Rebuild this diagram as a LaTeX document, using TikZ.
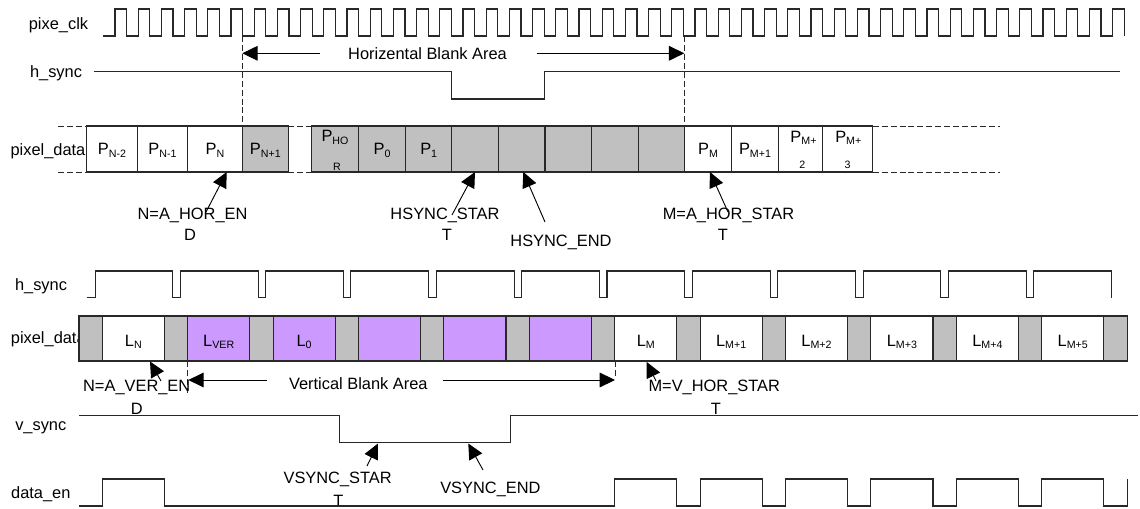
\documentclass[tikz,border=0pt]{standalone}
\usepackage{fontspec}
\setmainfont{Liberation Sans}
\usetikzlibrary{arrows.meta}
\definecolor{gbox}{RGB}{192,192,192}
\definecolor{pbox}{RGB}{204,153,255}
\definecolor{ink}{RGB}{40,40,40}
\newcommand{\smt}{\fontsize{8}{9}\selectfont}
\newcommand{\sbx}[1]{\raisebox{-1.6pt}{\smt #1}}
\tikzset{
  sig/.style={line width=0.8pt, draw=ink, line join=miter},
  cell/.style={line width=0.8pt, draw=ink},
  dsh/.style={line width=0.7pt, draw=ink, dash pattern=on 4.5pt off 2.2pt},
  lbl/.style={font=\fontsize{12.3}{16}\selectfont, inner sep=0pt, text=black},
  ann/.style={line width=0.7pt, draw=black, -{Triangle[length=11.5pt,width=11pt]}},
}
\begin{document}
\begin{tikzpicture}[x=0.75pt,y=-0.75pt]
\useasboundingbox (0,0) rectangle (1140,509);

% ---------- signal labels ----------
\node[lbl, anchor=base] (lclk) at (58.5,29.8) {pixe\_clk};
\node[lbl, anchor=base] (lhs1) at (56,77.5) {h\_sync};
\node[lbl, anchor=base] (lpd1) at (48,156) {pixel\_data};
\node[lbl, anchor=base] (lhs2) at (41,291) {h\_sync};
\node[lbl, anchor=base] (lpd2) at (48.3,344) {pixel\_data};
\node[lbl, anchor=base] (lvs) at (40.8,430.5) {v\_sync};
\node[lbl, anchor=base] (lde) at (40.8,498.3) {data\_en};

% ---------- pixel clock ----------
\draw[sig] (103,36) foreach \k in {0,...,43} {
  -- ({115+\k*23.2},36) -- ({115+\k*23.2},9) -- ({126.6+\k*23.2},9) -- ({126.6+\k*23.2},36) };

% ---------- top h_sync ----------
\draw[sig] (94,71.7) -- (451.7,71.7) -- (451.7,99) -- (544.3,99) -- (544.3,71.7) -- (1120,71.7);

% ---------- dashed markers (top) ----------
\draw[dsh] (242.3,36) -- (242.3,126);
\draw[dsh] (684.3,36) -- (684.3,126);

% ---------- horizontal blank area ----------
\node[lbl, anchor=base] (hba) at (427.5,59.5) {Horizental Blank Area};
\coordinate (hbl0) at (320,53.3);
\coordinate (hbl1) at (242.3,53.3);
\coordinate (hbr0) at (536.7,53.3);
\coordinate (hbr1) at (684.3,53.3);
\draw[ann] (hbl0) -- (hbl1);
\draw[ann] (hbr0) -- (hbr1);

% ---------- top pixel_data row ----------
\draw[dsh] (58,126) -- (86.7,126);
\draw[dsh] (58,172) -- (86.7,172);
\draw[dsh] (288.3,126) -- (311.7,126);
\draw[dsh] (288.3,172) -- (311.7,172);
\draw[dsh] (872.7,126) -- (1000,126);
\draw[dsh] (872.7,172) -- (1000,172);
\foreach \a/\b/\f/\t [count=\i] in {
  86.7/137.3/white/{P\sbx{N-2}},
  137.3/187.7/white/{P\sbx{N-1}},
  187.7/242.3/white/{P\sbx{N}},
  242.3/288.3/gbox/{P\sbx{N+1}},
  358.3/405.7/gbox/{P\sbx{0}},
  405.7/451.7/gbox/{P\sbx{1}},
  451.7/498.3/gbox/{},
  498.3/545/gbox/{},
  545/591.7/gbox/{},
  591.7/638.3/gbox/{},
  638.3/684.3/gbox/{},
  684.3/731.7/white/{P\sbx{M}},
  731.7/778.3/white/{P\sbx{M+1}}}
{
  \draw[cell, fill=\f] (\a,126) rectangle (\b,172);
  \node[lbl, anchor=base] (pt\i) at ({(\a+\b)/2},155) {\t};
}
% cells with wrapped subscripts
\draw[cell, fill=gbox] (311.7,126) rectangle (358.3,172);
\node[lbl, anchor=base] (phor) at (335,142) {P\sbx{HO}};
\node[lbl, anchor=base] (phorb) at (337,170.5) {\smt R};
\draw[cell, fill=white] (778.3,126) rectangle (822.7,172);
\node[lbl, anchor=base] (pm2) at (803.5,142.5) {P\sbx{M+}};
\node[lbl, anchor=base] (pm2b) at (802.3,169) {\smt 2};
\draw[cell, fill=white] (822.7,126) rectangle (872.7,172);
\node[lbl, anchor=base] (pm3) at (848.3,142.5) {P\sbx{M+}};
\node[lbl, anchor=base] (pm3b) at (847.7,169) {\smt 3};

% ---------- top annotations ----------
\node[lbl, anchor=base] (nA1) at (192.5,220) {N=A\_HOR\_EN};
\node[lbl, anchor=base] (nA2) at (190,241) {D};
\node[lbl, anchor=base] (hs1) at (445,220) {HSYNC\_STAR};
\node[lbl, anchor=base] (hs2) at (447,241) {T};
\node[lbl, anchor=base] (he1) at (561,247) {HSYNC\_END};
\node[lbl, anchor=base] (ma1) at (728.5,220) {M=A\_HOR\_STAR};
\node[lbl, anchor=base] (ma2) at (723,241) {T};
\coordinate (tA) at (206,212);   \coordinate (hA) at (226.7,172);
\coordinate (tHS) at (452,215);  \coordinate (hHS) at (475,172);
\coordinate (tHE) at (545,222);  \coordinate (hHE) at (523.3,172);
\coordinate (tMA) at (728,212);  \coordinate (hMA) at (710,172);
\draw[ann] (tA) -- (hA);
\draw[ann] (tHS) -- (hHS);
\draw[ann] (tHE) -- (hHE);
\draw[ann] (tMA) -- (hMA);

% ---------- bottom h_sync ----------
\draw[sig] (86.7,297.7) -- (95.7,297.7) -- (95.7,271) foreach \k in {0,...,10} {
  -- ({172.7+\k*85.36},271) -- ({172.7+\k*85.36},297.7) -- ({180.2+\k*85.36},297.7) -- ({180.2+\k*85.36},271) }
  -- (1111.7,271) -- (1111.7,297.7);

% ---------- bottom pixel_data row ----------
\foreach \k in {0,...,12}
  \draw[cell, fill=gbox] ({79+\k*85.4},316) rectangle ({102.3+\k*85.4},361);
\foreach \k/\f/\t in {
  0/white/{L\sbx{N}},
  1/pbox/{L\sbx{VER}},
  2/pbox/{L\sbx{0}},
  3/pbox/{},
  4/pbox/{},
  5/pbox/{},
  6/white/{L\sbx{M}},
  7/white/{L\sbx{M+1}},
  8/white/{L\sbx{M+2}},
  9/white/{L\sbx{M+3}},
  10/white/{L\sbx{M+4}},
  11/white/{L\sbx{M+5}}}
{
  \draw[cell, fill=\f] ({102.3+\k*85.4},316) rectangle ({164.4+\k*85.4},361);
  \node[lbl, anchor=base] (lc\k) at ({133.35+\k*85.4},346.7) {\t};
}

% ---------- vertical blank area ----------
\draw[dsh] (187.7,361) -- (187.7,393);
\draw[dsh] (615,361) -- (615,378);
\node[lbl, anchor=base] (vba) at (358.3,390) {Vertical Blank Area};
\coordinate (vbl0) at (266.7,380);
\coordinate (vbl1) at (188.3,380);
\coordinate (vbr0) at (443.3,380);
\coordinate (vbr1) at (615,380);
\draw[ann] (vbl0) -- (vbl1);
\draw[ann] (vbr0) -- (vbr1);

\node[lbl, anchor=base] (nv1) at (136.7,391.5) {N=A\_VER\_EN};
\node[lbl, anchor=base] (nv2) at (136.7,414.5) {D};
\node[lbl, anchor=base west] (mv1) at (648.3,391.5) {M=V\_HOR\_STAR};
\node[lbl, anchor=base] (mv2) at (716,414.5) {T};
\coordinate (tNV) at (161,381);  \coordinate (hNV) at (150,361.5);
\coordinate (tMV) at (656,381);  \coordinate (hMV) at (646.7,362);
\draw[ann] (tNV) -- (hNV);
\draw[ann] (tMV) -- (hMV);

% ---------- v_sync ----------
\draw[sig] (79,415.7) -- (339.3,415.7) -- (339.3,442.3) -- (510.7,442.3) -- (510.7,415.7) -- (1138,415.7);
\node[lbl, anchor=base west] (vs1) at (283.3,483.3) {VSYNC\_STAR};
\node[lbl, anchor=base] (vs2) at (338.3,506.5) {T};
\node[lbl, anchor=base west] (ve1) at (440,494) {VSYNC\_END};
\coordinate (tVS) at (367,466);  \coordinate (hVS) at (378,443.5);
\coordinate (tVE) at (483,470);  \coordinate (hVE) at (468.3,443.5);
\draw[ann] (tVS) -- (hVS);
\draw[ann] (tVE) -- (hVE);

% ---------- data_en ----------
\draw[sig] (79,506) -- (102.3,506) -- (102.3,479) -- (164.4,479) -- (164.4,506)
  foreach \k in {6,...,10} {
  -- ({102.3+\k*85.4},506) -- ({102.3+\k*85.4},479) -- ({164.4+\k*85.4},479) -- ({164.4+\k*85.4},506) }
  -- (1041.7,506) -- (1041.7,479) -- (1103.8,479) -- (1103.8,506) -- (1127.1,506) -- (1127.1,479);
\end{tikzpicture}
\end{document}
